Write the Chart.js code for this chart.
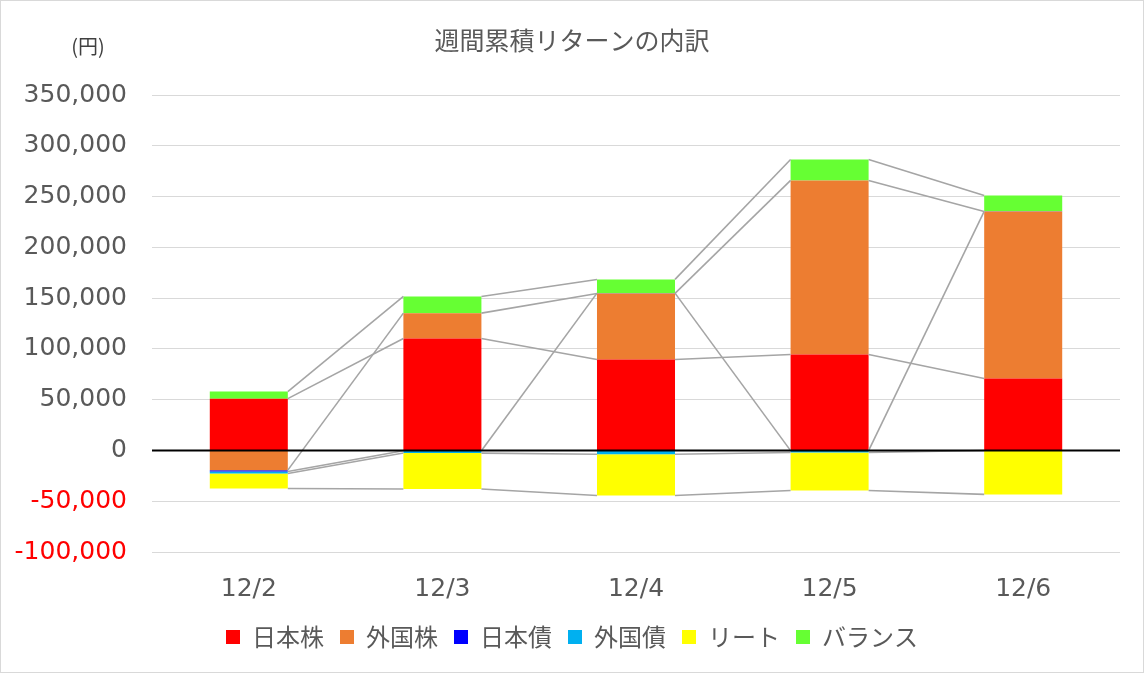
<!DOCTYPE html>
<html>
<head>
<meta charset="utf-8">
<script src="https://cdn.jsdelivr.net/npm/chart.js@4/dist/chart.umd.min.js"></script>
<style>
  html, body { margin: 0; padding: 0; background: #fff; }
  #wrap { width: 1144px; height: 673px; box-sizing: border-box; border: 1px solid #D9D9D9; }
  canvas { display: block; }
</style>
</head>
<body>
<div id="wrap"><canvas id="c" width="1142" height="671"></canvas></div>
<script>
const categories = ['12/2', '12/3', '12/4', '12/5', '12/6'];
const seriesNames = ['日本株', '外国株', '日本債', '外国債', 'リート', 'バランス'];
const jpStocks    = [51000, 110300, 89600, 94500, 70900];
const fgnStocks   = [-19400, 24900, 65000, 171400, 164400];
const jpBonds     = [-1300, -300, 300, -200, 200];
const fgnBonds    = [-2000, -2300, -3700, -1800, -100];
const reits       = [-14700, -35400, -40600, -37400, -43200];
const balance     = [7000, 16400, 13500, 20600, 15500];
const yTicks = { min: -100000, max: 350000, step: 50000 };
const seriesColors = ['#FF0000', '#ED7D31', '#0000FF', '#00B0F0', '#FFFF00', '#66FF33'];

const seriesValues = [jpStocks, fgnStocks, jpBonds, fgnBonds, reits, balance];
const TXT = '#595959';
const FONT_NUM = "'DejaVu Sans', 'Noto Sans CJK JP', sans-serif";
const FONT_JP = "'Noto Sans CJK JP', 'DejaVu Sans', sans-serif";

const seriesLinesPlugin = {
  id: 'seriesLines',
  afterDatasetsDraw(chart) {
    const ctx = chart.ctx;
    ctx.save();
    ctx.strokeStyle = '#A5A5A5';
    ctx.lineWidth = 1.6;
    chart.data.datasets.forEach((ds, di) => {
      const meta = chart.getDatasetMeta(di);
      for (let i = 0; i < meta.data.length - 1; i++) {
        const a = meta.data[i], b = meta.data[i + 1];
        ctx.beginPath();
        ctx.moveTo(a.x + a.width / 2, a.y);
        ctx.lineTo(b.x - b.width / 2, b.y);
        ctx.stroke();
      }
    });
    const y0 = chart.scales.y.getPixelForValue(0);
    const area = chart.chartArea;
    ctx.strokeStyle = '#000000';
    ctx.lineWidth = 2;
    ctx.beginPath();
    ctx.moveTo(area.left, y0);
    ctx.lineTo(area.right, y0);
    ctx.stroke();
    ctx.restore();
  },
  afterDraw(chart) {
    const ctx = chart.ctx;
    ctx.save();
    ctx.fillStyle = '#404040';
    ctx.font = "20px " + FONT_JP;
    ctx.textAlign = 'center';
    ctx.textBaseline = 'middle';
    ctx.fillText('(円)', 87, 45);
    ctx.restore();
  }
};

new Chart(document.getElementById('c'), {
  type: 'bar',
  data: {
    labels: categories,
    datasets: seriesNames.map((name, i) => ({
      label: name,
      data: seriesValues[i],
      backgroundColor: seriesColors[i],
      borderWidth: 0,
      categoryPercentage: 1.0,
      barPercentage: 0.403,
      yAxisID: 'y'
    }))
  },
  options: {
    responsive: false,
    animation: false,
    layout: { padding: { left: 0, right: 0, top: 0, bottom: 13 } },
    scales: {
      x: {
        stacked: true,
        grid: { display: false, drawTicks: false },
        border: { display: false },
        ticks: { color: TXT, font: { family: FONT_NUM, size: 25 }, padding: 22 },
        afterFit(s) { s.height = 57; }
      },
      y: {
        stacked: true,
        min: yTicks.min,
        max: yTicks.max,
        position: 'left',
        grid: { color: '#D9D9D9', lineWidth: 1, drawTicks: false },
        border: { display: false },
        ticks: {
          stepSize: yTicks.step,
          padding: 25,
          font: { family: FONT_NUM, size: 25 },
          color: (c) => (c.tick && c.tick.value < 0) ? '#FF0000' : TXT,
          callback: (v) => Number(v).toLocaleString('en-US')
        },
        afterFit(s) { s.width = 151; }
      },
      yRight: {
        position: 'right',
        display: true,
        grid: { display: false, drawTicks: false },
        border: { display: false },
        ticks: { display: false },
        afterFit(s) { s.width = 23; }
      }
    },
    plugins: {
      title: {
        display: true,
        text: '週間累積リターンの内訳',
        color: TXT,
        font: { family: FONT_JP, size: 25, weight: 'normal' },
        padding: { top: 24, bottom: 40 }
      },
      legend: {
        display: true,
        position: 'bottom',
        labels: {
          color: TXT,
          font: { family: FONT_JP, size: 24 },
          boxWidth: 14,
          boxHeight: 14,
          padding: 16
        }
      },
      tooltip: { enabled: false }
    }
  },
  plugins: [seriesLinesPlugin]
});
</script>
</body>
</html>
